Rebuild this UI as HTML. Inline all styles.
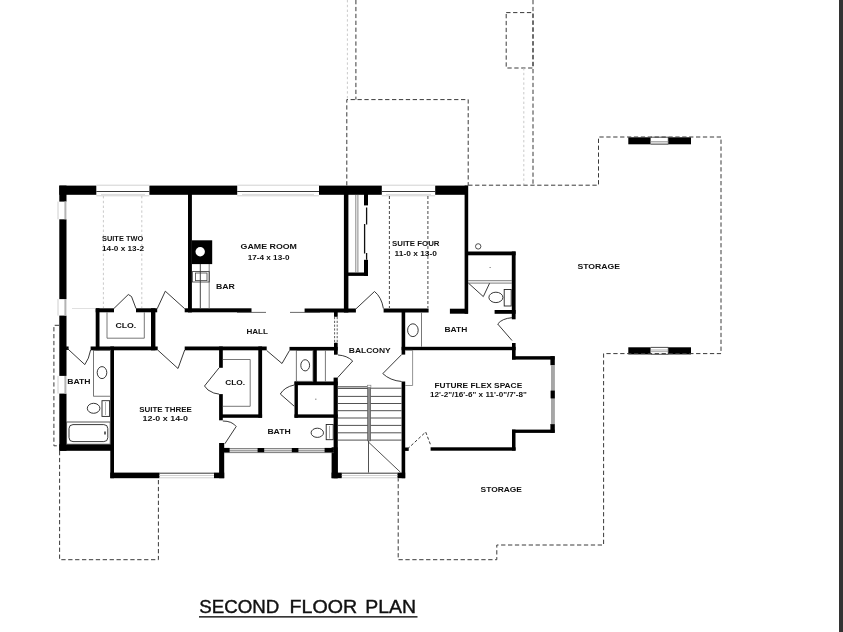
<!DOCTYPE html>
<html><head><meta charset="utf-8">
<style>
html,body{margin:0;padding:0;background:#fff;}
body{width:843px;height:632px;overflow:hidden;position:relative;font-family:"Liberation Sans",sans-serif;}
svg{position:absolute;left:0;top:0;display:block;filter:blur(0.45px);}
.w{fill:#000;}
.t{fill:none;stroke:#222;stroke-width:0.9;}
.g{fill:none;stroke:#999;stroke-width:0.9;}
.lg{fill:none;stroke:#ccc;stroke-width:0.9;}
.d{fill:none;stroke:#3a3a3a;stroke-width:1;stroke-dasharray:4.3 2.6;}
.dl{fill:none;stroke:#c4c4c4;stroke-width:0.9;stroke-dasharray:2.4 2.4;}
text{font-family:"Liberation Sans",sans-serif;font-weight:bold;fill:#111;}
.lb{font-size:6.6px;}
text.ti{font-size:18.6px;font-weight:normal;fill:#111;stroke:#111;stroke-width:0.4px;}
</style></head>
<body>
<svg width="843" height="632" viewBox="0 0 843 632">
<rect x="0" y="0" width="843" height="632" fill="#fff"/>
<!-- right edge strip -->
<rect x="839" y="0" width="4" height="632" fill="#333"/>

<!-- ===== WALLS ===== -->
<g class="w" id="walls">
<!-- top exterior -->
<rect x="59.3" y="185.6" width="37" height="9.2"/>
<rect x="149.4" y="185.6" width="87.8" height="9.2"/>
<rect x="319" y="185.6" width="62.8" height="9.2"/>
<rect x="435.2" y="185.6" width="32.8" height="9.2"/>
<!-- left exterior -->
<rect x="59.3" y="185.6" width="7.2" height="16"/>
<rect x="59.3" y="219.3" width="7.2" height="79.8"/>
<rect x="59.3" y="315.6" width="7.2" height="60.3"/>
<rect x="59.3" y="393.6" width="7.2" height="57.2"/>
<rect x="66" y="346.5" width="2.6" height="3.4"/>
<!-- bath bottom -->
<rect x="59.3" y="444.2" width="54.6" height="6.6"/>
<!-- suite three left/bottom/right -->
<rect x="110.3" y="346.5" width="3.7" height="131.7"/>
<rect x="110.3" y="472.6" width="49.2" height="5.6"/>
<rect x="214" y="472.6" width="10.2" height="5.6"/>
<rect x="219.1" y="443" width="5.1" height="35.2"/>
<rect x="219.1" y="394.1" width="3.7" height="26.2"/>
<rect x="219.1" y="346.5" width="3.7" height="21.3"/>
<!-- suite two / game room -->
<rect x="188" y="194" width="3.9" height="118.4"/>
<rect x="191.8" y="240.3" width="20.4" height="23.8"/>
<!-- upper hall wall -->
<rect x="95.7" y="308.3" width="18.3" height="4"/>
<rect x="136" y="308.3" width="21.2" height="4"/>
<rect x="184.7" y="308.3" width="66.8" height="4"/>
<rect x="304.6" y="308.5" width="51.3" height="4"/>
<rect x="383.6" y="308.5" width="45" height="4"/>
<rect x="449.9" y="308.7" width="18.1" height="5"/>
<rect x="494.6" y="310" width="21" height="3.8"/>
<!-- suite two clo -->
<rect x="95.7" y="308.3" width="3.8" height="42"/>
<rect x="151" y="308.3" width="4.4" height="42"/>
<!-- hall bottom wall -->
<rect x="90.6" y="346.5" width="67.1" height="3.8"/>
<rect x="184.7" y="346.5" width="82" height="3.8"/>
<rect x="289.5" y="346.9" width="48.2" height="3.6"/>
<!-- game room / suite four -->
<rect x="343.9" y="194" width="4.5" height="118.5"/>
<rect x="348" y="272.5" width="20" height="3.4"/>
<rect x="364" y="194" width="4" height="11.4"/>
<rect x="364" y="259.8" width="4" height="16"/>
<!-- suite four right wall -->
<rect x="464.6" y="185.6" width="3.6" height="128.1"/>
<!-- shower box right -->
<rect x="468" y="251.5" width="47.6" height="3.8"/>
<rect x="511.8" y="251.5" width="3.8" height="67.8"/>
<!-- bath (right) walls -->
<rect x="401.6" y="311.4" width="3.6" height="43.2"/>
<rect x="401.6" y="381.5" width="3.6" height="96.7"/>
<rect x="401.6" y="346.8" width="114" height="3.4"/>
<rect x="512" y="343" width="3.6" height="16.5"/>
<!-- flex space -->
<rect x="512" y="356.2" width="42.6" height="3.4"/>
<rect x="550.4" y="356.2" width="4.4" height="9"/>
<rect x="550.4" y="424" width="4.4" height="8.8"/>
<rect x="512" y="429.6" width="42.6" height="3.3"/>
<rect x="512" y="429.6" width="3.5" height="21"/>
<rect x="430.6" y="447.3" width="85" height="3.4"/>
<!-- stairs walls -->
<rect x="334" y="312" width="3.7" height="4.8"/>
<rect x="334" y="342.7" width="3.7" height="12"/>
<rect x="333.6" y="377.6" width="4.2" height="100.6"/>
<rect x="331.6" y="447.3" width="6" height="30.9"/>
<rect x="331.6" y="472.6" width="10.2" height="5.6"/>
<rect x="397.4" y="472.6" width="7.8" height="5.6"/>
<rect x="405" y="447.5" width="3.7" height="3.4"/>
<!-- suite three clo -->
<rect x="258.3" y="346.5" width="3.8" height="71.2"/>
<rect x="222" y="414.4" width="40.1" height="3.4"/>
<!-- bath mid -->
<rect x="313" y="350" width="3.8" height="32.2"/>
<rect x="294.5" y="381.5" width="43.2" height="3.7"/>
<rect x="294.5" y="381.5" width="3.4" height="36.2"/>
<rect x="294.5" y="414.4" width="43.2" height="3.4"/>
<!-- bath window blocks -->
<!-- storage windows -->
<rect x="628.3" y="137.3" width="22.3" height="7"/>
<rect x="668.3" y="137.3" width="22.7" height="7"/>
<rect x="628.3" y="347.3" width="22.3" height="7.1"/>
<rect x="668.3" y="347.3" width="22.7" height="7.1"/>
</g>
<circle cx="200.2" cy="251.7" r="4.7" fill="#fff"/>
<!-- ===== THIN LINES ===== -->
<g id="windows">
<!-- top windows: light lines at top/bottom, dark line mid -->
<path class="lg" d="M96.3 185.2H149.4M96.3 195.8H149.4M237.2 185.2H319M237.2 195.8H319M381.8 185.2H435.2M381.8 195.8H435.2"/>
<path class="t" d="M96.3 191.5H149.4M237.2 191.5H319M381.8 191.5H435.2"/>
<path class="g" d="M101 194.4H145M242 194.4H314M386 194.4H431" style="stroke:#cfcfcf;stroke-width:0.8"/>
<!-- left windows -->
<path class="lg" d="M58 201.6V219.3M58 299.1V315.6M58 375.9V393.6" style="stroke:#c8c8c8;stroke-width:0.9"/>
<path class="g" d="M65.4 201.6V219.3M65.4 299.1V315.6M65.4 375.9V393.6" style="stroke:#b4b4b4;stroke-width:2"/>
<path class="lg" d="M72 308.5H95" style="stroke:#ddd"/>
<!-- suite three bottom window -->
<path class="t" d="M159.4 473.2H214"/>
<path class="lg" d="M159.4 477.8H214M159.4 475.5H214"/>
<!-- stairs bottom window -->
<path class="t" d="M341.8 473.2H397.4"/>
<path class="lg" d="M341.8 477.8H397.4M341.8 475.5H397.4"/>
<!-- bath window -->
<path class="t" d="M224 448.6H334M224 452.6H334" style="stroke:#555;stroke-width:0.8"/>
<path class="g" d="M224 450.6H334" style="stroke-width:1.6;stroke:#a0a0a0"/>
<!-- flex window -->
<rect x="551" y="365" width="3.9" height="59.2" fill="#a6a6a6"/><rect x="550.6" y="390.6" width="4.2" height="7.8" fill="#000"/>
<!-- storage windows -->
<path class="t" d="M650.6 137.2H668.3V144.2H650.6M650.6 347.4H668.3V354.3H650.6" style="stroke-width:0.8"/>
<path class="g" d="M650.6 141.5H668.3M650.6 143H668.3M650.6 350H668.3M650.6 351.6H668.3" style="stroke-width:0.8"/>
</g>
<g class="w"><rect x="224" y="447.9" width="5.6" height="4.4"/>
<rect x="257.6" y="448" width="6.6" height="4.2"/>
<rect x="291.8" y="448" width="6.6" height="4.2"/>
<rect x="324.6" y="447.9" width="9.2" height="4.4"/>
</g>
<g id="doors" class="t">
<!-- suite two clo door -->
<path d="M113.9 308.5L128.3 294.5L131.5 296.5L136 308.5"/>
<!-- suite two door -->
<path d="M157.2 308.7L165.3 291.2L184.7 308.7"/>
<!-- hall opening thin lines -->
<path d="M237 312.4H266M290 312.4H320" style="stroke:#444;stroke-width:0.8"/>
<!-- suite four door -->
<path d="M355.8 309L374.5 291.5"/>
<path d="M374.5 291.5Q381.5 297 383.4 308.5"/>
<!-- left bath door -->
<path d="M66.4 347.6L84.8 364.6Q89 359 90.6 350"/>
<!-- suite three door (hall) -->
<path d="M157.7 350L178 368.5L184.7 350"/>
<!-- hall -> bath door -->
<path d="M266.7 350.5L282 363.5L289.5 350.5"/>
<!-- suite three clo door -->
<path d="M219.1 367.8L204.5 386L208 390Q214 394 219.1 394.1"/>
<!-- suite three bath door -->
<path d="M222.8 421Q232 421 236.2 426.5L224.8 443.8"/>
<!-- shower door mid bath -->
<path d="M294.2 385Q284.5 387 280.3 394L294.2 406.2"/>
<!-- balcony left door -->
<path d="M337.7 377.6L352.7 361"/>
<path d="M352.7 361Q347 355.5 338 355"/>
<!-- balcony right door -->
<path d="M401.6 354.6L382.8 373.6"/>
<path d="M382.8 373.6Q390 380.5 401.6 381.5"/>
<!-- right bath door -->
<path d="M512 340.5L497.7 324"/>
<path d="M497.7 324Q502 318.5 512 317.7"/>
<!-- right shower door V -->
<path d="M468.5 283.2L483.3 296.6L489.6 283.2"/>
</g>
<g id="fixtures" class="t">
<!-- bar -->
<path d="M200.3 264V308.3" style="stroke:#333;stroke-width:0.9"/><path d="M209.2 264V308.3" style="stroke:#777;stroke-width:0.9"/>
<rect x="192.3" y="271.6" width="16.9" height="10.4" style="stroke:#333;stroke-width:0.8"/>
<rect x="195.4" y="273" width="11.6" height="7.6" style="stroke:#444;stroke-width:0.8"/>
<!-- suite two clo shelf -->
<path d="M107 312.3V338.2H144.3V312.3" style="stroke:#555;stroke-width:0.8"/>
<!-- suite four closet rod -->
<path d="M355.8 194.8V272.5M357.9 194.8V272.5" style="stroke:#555;stroke-width:0.7"/>
<!-- sliding doors -->
<path d="M366.6 207.5V224.5M364.6 224V253.5M366.6 253V259.8" style="stroke:#111;stroke-width:1.3"/>
<!-- left bath vanity -->
<rect x="93.6" y="350.3" width="17" height="45.9" style="stroke:#555;stroke-width:0.8"/>
<ellipse cx="102" cy="372.6" rx="4.8" ry="6"/>
<!-- left bath toilet -->
<ellipse cx="93.6" cy="408.3" rx="6.3" ry="5"/>
<rect x="102" y="400.7" width="7.6" height="15.7"/>
<path d="M105.5 402V415" style="stroke:#777;stroke-width:0.6"/>
<!-- tub -->
<rect x="66.6" y="422" width="43.6" height="22.2" style="stroke:#444"/>
<rect x="69" y="424.6" width="38.8" height="17" rx="4" ry="4"/>
<path d="M105 431.5V434.5" style="stroke-width:1.4"/>
<!-- suite three clo shelf -->
<path d="M222.8 359.5H250.2V406.3H222.8" style="stroke:#555;stroke-width:0.8"/>
<!-- mid bath vanity -->
<rect x="296.3" y="350.5" width="16.7" height="30.8" style="stroke:#555;stroke-width:0.8"/>
<ellipse cx="305.2" cy="365.3" rx="4.4" ry="5.6"/>
<path d="M325.4 350.5V381.5" style="stroke:#555;stroke-width:0.8"/>
<!-- mid bath toilet -->
<ellipse cx="317.3" cy="432.8" rx="6.2" ry="4.6"/>
<rect x="326.2" y="424.5" width="7" height="15.2"/>
<path d="M329.5 426V438.5" style="stroke:#777;stroke-width:0.6"/>
<!-- shower drain dots -->
<path d="M315 399.2H316.5M489.5 267.5H490.8" style="stroke:#888;stroke-width:1"/>
<!-- right bath vanity -->
<path d="M421.5 312.5V346.8" style="stroke:#555;stroke-width:0.8"/>
<ellipse cx="412.9" cy="330.2" rx="5.3" ry="6.4"/>
<!-- thin rect beside balcony right door -->
<path d="M405.2 350.3H412.6V385.5H405.2" style="stroke:#666;stroke-width:0.7"/>
<!-- right shower -->
<path d="M468.2 280.7H511.8M468.2 283.1H511.8" style="stroke:#444;stroke-width:0.7"/>
<ellipse cx="495.9" cy="297.4" rx="7" ry="5.2"/>
<rect x="504.2" y="289.5" width="7" height="16.5"/>
<circle cx="478.2" cy="246.4" r="2.7" style="stroke-width:0.8"/>
<!-- balcony railing -->
<path d="M334.6 317V342.5M337.2 317V342.5" style="stroke:#333;stroke-width:0.8;stroke-dasharray:2.2 1.6"/>
</g>
<g id="stairs" class="t" style="stroke:#333;stroke-width:0.85">
<rect x="367.7" y="387.5" width="2.9" height="53.4" style="fill:#8c8c8c;stroke:#444;stroke-width:0.6"/>
<path d="M337.7 386.8H367.6M337.7 388.4H367.6" style="stroke:#222"/>
<path d="M370.7 388.2H401.6"/>
<path d="M337.7 396.4H367.6M370.7 396.4H401.6M337.7 403.5H367.6M370.7 403.5H401.6M337.7 410.7H367.6M370.7 410.7H401.6M337.7 418H367.6M370.7 418H401.6M337.7 425.4H367.6M370.7 425.4H401.6M337.7 432.8H367.6M370.7 432.8H401.6M337.7 440.1H367.6M370.7 440.1H401.6"/>
<rect x="367.5" y="385.2" width="3.4" height="2.2" style="fill:#fff;stroke:#777;stroke-width:0.6"/>
<path d="M368.5 441V472.6M368.6 442.2L400.4 472.2" style="stroke:#333"/>
</g>

<!-- ===== DASHED ===== -->
<g id="dashed">
<!-- suite two ceiling lines (light) -->
<path class="dl" d="M103.4 196V308M141.8 196V308"/>
<!-- suite four dashed (dark) -->
<path class="d" d="M389.4 196V308M427.9 196V308" style="stroke-dasharray:3 2;stroke:#333;stroke-width:0.9"/>
<!-- top roof outlines -->
<path class="d" d="M355.9 0V99.6"/>
<path class="dl" d="M347.4 0V99"/>
<path class="d" d="M346.8 185.5V99.6H468.2V185.5"/>
<path class="d" d="M506.2 12.6H533V68H506.2Z"/>
<path class="d" d="M533 0V185"/>
<path class="dl" d="M523.8 68V185"/>
<!-- storage upper -->
<path class="d" d="M468.2 185.2H598.5V137H721V353.6H603.6V545H496.8V559.7H398.2V478.4"/>
<!-- left bath outside -->
<path class="d" d="M59 325.3H53.9V445.8H59"/>
<!-- lower left roof -->
<path class="d" d="M59.6 451V559.7H158.4V478.4"/>
<!-- flex space dashed door -->
<path class="d" d="M407.5 449L425.7 432L431 446" style="stroke-dasharray:3 2"/>
</g>

<!-- ===== TEXT ===== -->
<g id="labels" class="lb">
<text x="102" y="240.7" textLength="41.2" lengthAdjust="spacingAndGlyphs">SUITE TWO</text>
<text x="102" y="250.8" textLength="42.0" lengthAdjust="spacingAndGlyphs">14-0 x 13-2</text>
<text x="240.6" y="249.1" textLength="56.4" lengthAdjust="spacingAndGlyphs">GAME ROOM</text>
<text x="247.7" y="260.2" textLength="41.8" lengthAdjust="spacingAndGlyphs">17-4 x 13-0</text>
<text x="392" y="246.4" textLength="47.5" lengthAdjust="spacingAndGlyphs">SUITE FOUR</text>
<text x="394.5" y="256.4" textLength="42.5" lengthAdjust="spacingAndGlyphs">11-0 x 13-0</text>
<text x="215.9" y="289.3" textLength="18.9" lengthAdjust="spacingAndGlyphs">BAR</text>
<text x="577.4" y="269.1" textLength="42.6" lengthAdjust="spacingAndGlyphs">STORAGE</text>
<text x="115.4" y="328.4" textLength="20.8" lengthAdjust="spacingAndGlyphs">CLO.</text>
<text x="246.4" y="334.0" textLength="21.6" lengthAdjust="spacingAndGlyphs">HALL</text>
<text x="348.8" y="352.7" textLength="41.9" lengthAdjust="spacingAndGlyphs">BALCONY</text>
<text x="67.3" y="383.9" textLength="23.3" lengthAdjust="spacingAndGlyphs">BATH</text>
<text x="444.5" y="332.3" textLength="22.8" lengthAdjust="spacingAndGlyphs">BATH</text>
<text x="267.4" y="434.4" textLength="23.3" lengthAdjust="spacingAndGlyphs">BATH</text>
<text x="225.2" y="385.1" textLength="19.8" lengthAdjust="spacingAndGlyphs">CLO.</text>
<text x="139.2" y="411.7" textLength="52.6" lengthAdjust="spacingAndGlyphs">SUITE THREE</text>
<text x="142.5" y="421.3" textLength="45.5" lengthAdjust="spacingAndGlyphs">12-0 x 14-0</text>
<text x="434.4" y="387.7" textLength="87.8" lengthAdjust="spacingAndGlyphs">FUTURE FLEX SPACE</text>
<text x="430" y="397.0" textLength="96.8" lengthAdjust="spacingAndGlyphs">12'-2&quot;/16'-6&quot; x 11'-0&quot;/7'-8&quot;</text>
<text x="480.6" y="491.7" textLength="41.4" lengthAdjust="spacingAndGlyphs">STORAGE</text>
</g>
<g>
<text class="ti" x="199.2" y="613.4" textLength="80" lengthAdjust="spacingAndGlyphs">SECOND</text>
<text class="ti" x="289.6" y="613.4" textLength="67.6" lengthAdjust="spacingAndGlyphs">FLOOR</text>
<text class="ti" x="365.2" y="613.4" textLength="50.8" lengthAdjust="spacingAndGlyphs">PLAN</text>
</g>
<rect x="199" y="616.1" width="218.5" height="1.5" fill="#222"/>
</svg>
</body></html>
